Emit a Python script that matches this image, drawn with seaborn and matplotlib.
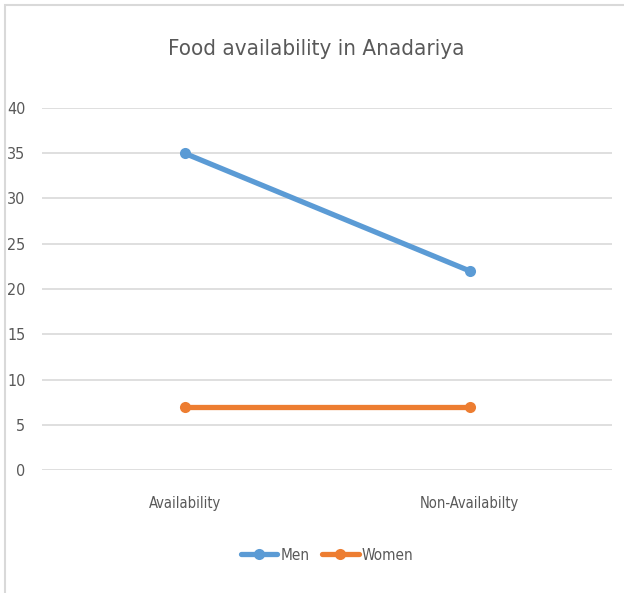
import pandas as pd
import seaborn as sns
import matplotlib.pyplot as plt
from matplotlib.patches import Rectangle

# Datos
categorias = ['Availability', 'Non-Availabilty']
men = [35, 22]
women = [7, 7]
yticks = [0, 5, 10, 15, 20, 25, 30, 35, 40]

df = pd.DataFrame({
    'categoria': categorias * 2,
    'valor': men + women,
    'grupo': ['Men'] * len(men) + ['Women'] * len(women),
})

sns.set_theme(style='white')
plt.rcParams['font.family'] = ['DejaVu Sans']
plt.rcParams['font.stretch'] = 'condensed'

fig = plt.figure(figsize=(6.24, 5.93), dpi=100)
ax = fig.add_axes([0.0673, 0.2074, 0.9137, 0.6105])

sns.lineplot(
    data=df, x='categoria', y='valor', hue='grupo',
    palette={'Men': '#5B9BD5', 'Women': '#ED7D31'},
    linewidth=3.8, marker='o', markersize=8, markeredgewidth=0,
    ax=ax, sort=False,
)

ax.set_xlim(-0.5, 1.5)
ax.set_ylim(0, 40)
ax.set_yticks(yticks)
ax.yaxis.grid(True, color='#D9D9D9', linewidth=1.2)
ax.set_axisbelow(True)
for s in ax.spines.values():
    s.set_visible(False)
ax.tick_params(axis='y', length=0, labelsize=11.5, colors='#595959', pad=12)
ax.tick_params(axis='x', length=0, labelsize=10.5, colors='#595959', pad=19)
ax.set_xlabel('')
ax.set_ylabel('')

fig.text(0.507, 0.918, 'Food availability in Anadariya', ha='center', va='center',
         fontsize=16, color='#595959')

handles, labels = ax.get_legend_handles_labels()
ax.legend(handles, labels, loc='center', bbox_to_anchor=(0.5, -0.235),
          ncol=2, frameon=False, fontsize=11, labelcolor='#595959',
          handlelength=2.4, handletextpad=0.2, columnspacing=0.8)

# Marco exterior
fig.patches.append(Rectangle((0.008, -0.01), 1.0, 1.002, transform=fig.transFigure,
                             fill=False, edgecolor='#D9D9D9', linewidth=1.5))

fig.savefig('out.png', dpi=100)
